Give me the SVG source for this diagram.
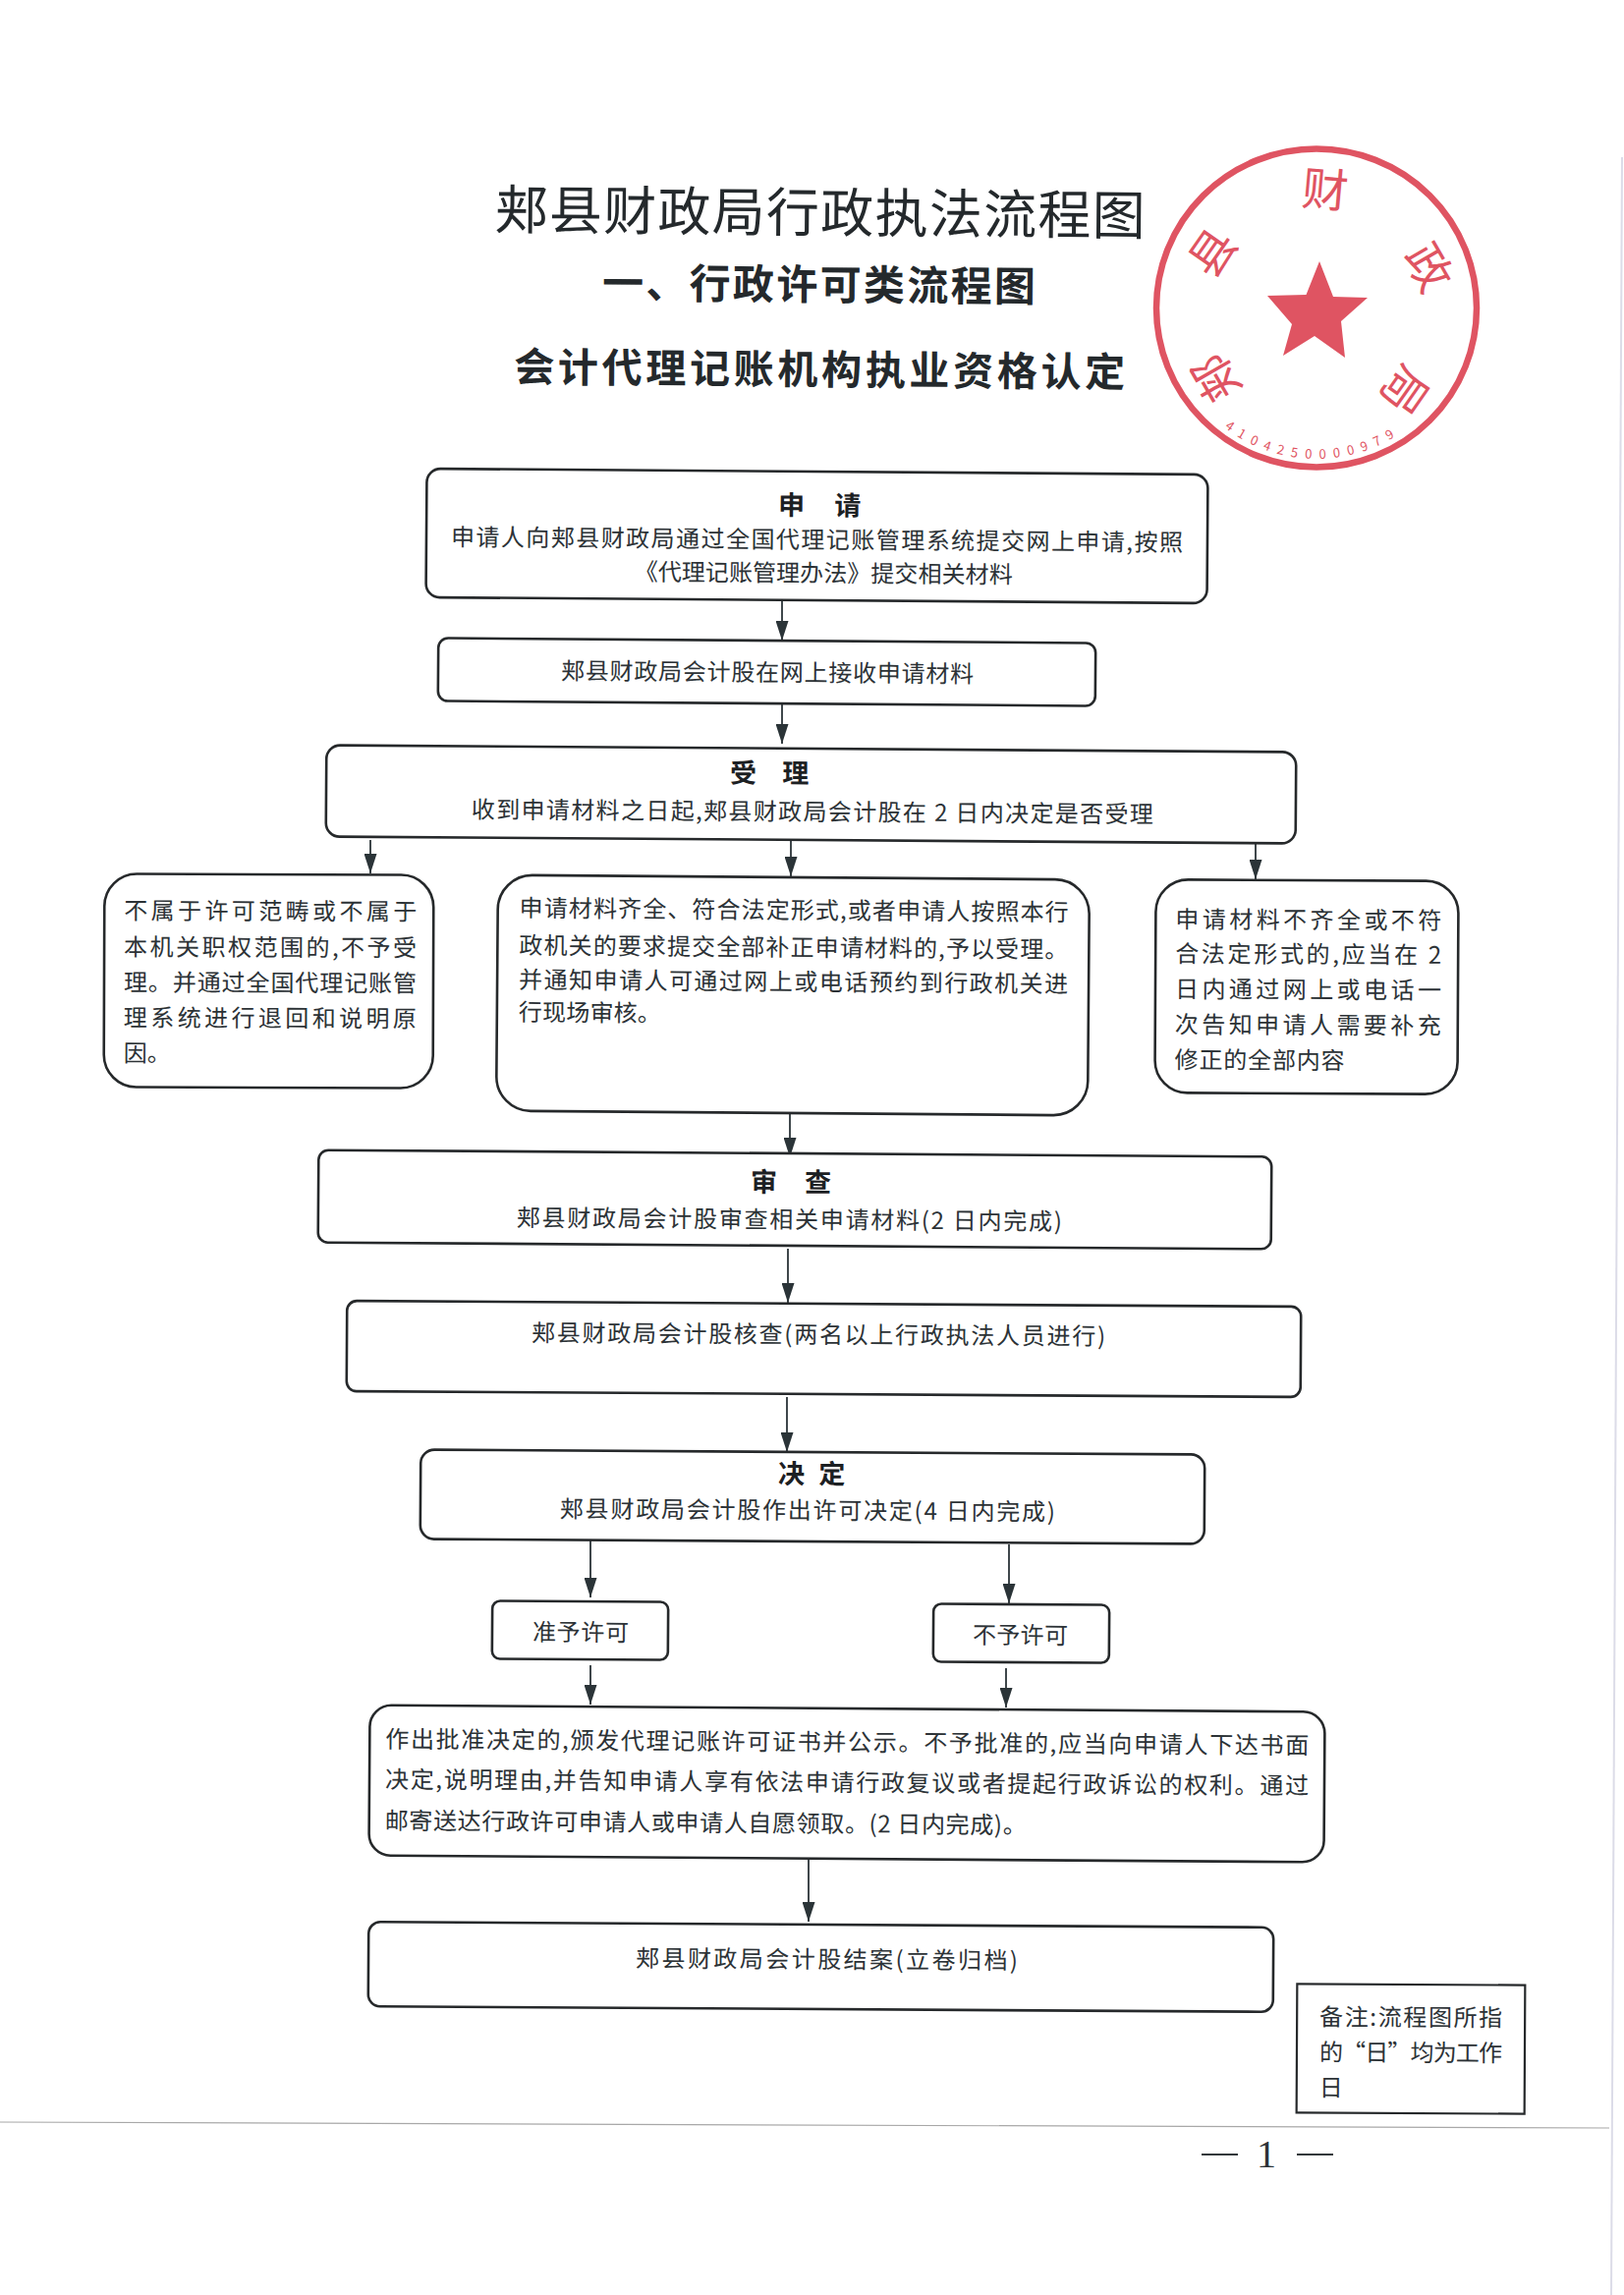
<svg xmlns="http://www.w3.org/2000/svg" width="1653" height="2336" viewBox="0 0 1653 2336">
<defs>
<style>
text{font-family:"Noto Sans CJK SC","Noto Sans",sans-serif;fill:#2c3236;font-size:24px}
.b{fill:#fff;stroke:#26292b;stroke-width:2.6}
.h{font-size:27px;font-weight:700;fill:#1c2023;text-anchor:middle}
.t{font-size:24px}
.title{font-size:54px;fill:#24292c}
.sub{font-size:42px;font-weight:700;fill:#24292c}
.sub2{font-size:41px;font-weight:700;fill:#24292c}
.c{fill:none;stroke:#2b3438;stroke-width:1.8;marker-end:url(#a)}
.s{fill:#df5462;font-size:47px;text-anchor:middle}
</style>
<marker id="a" markerUnits="userSpaceOnUse" viewBox="0 0 20 13" markerWidth="20" markerHeight="13" refX="20" refY="6.5" orient="auto"><path d="M0 0L20 6.5L0 13z" fill="#2b3438"/></marker>
</defs>
<rect width="1653" height="2336" fill="#fff"/>
<path d="M1651 160L1640 2336" stroke="#dcdce8" stroke-width="2" fill="none"/>
<path d="M0 2160L1638 2166" stroke="#a8a8a8" stroke-width="1.2" fill="none"/>
<g id="title" transform="rotate(0.5 836 290)">
<text class="title" x="503" y="236" textLength="662">郏县财政局行政执法流程图</text>
<text class="sub" x="613" y="305" textLength="441">一、行政许可类流程图</text>
<text class="sub2" x="524" y="391" textLength="622">会计代理记账机构执业资格认定</text>
</g>
<g id="seal">
<ellipse cx="1340" cy="313.5" rx="163" ry="162" fill="none" stroke="#df5462" stroke-width="6.5"/>
<polygon points="1343,266 1357,302 1392,303 1365,327 1369,364 1338,342 1306,362 1315,330 1290,301 1329.5,300" fill="#df5462"/>
<text class="s" x="1349" y="210" transform="rotate(5 1349 193)">财</text>
<text class="s" x="1234" y="274" transform="rotate(-55 1234 257)">县</text>
<text class="s" x="1454" y="289" transform="rotate(60 1454 272)">政</text>
<text class="s" x="1238" y="402" transform="rotate(-120 1238 385)">郏</text>
<text class="s" x="1430" y="414" transform="rotate(125 1430 397)">局</text>
<text style="font-size:13px;fill:#df5462" x="1246.2 1258.5 1271.4 1284.9 1298.9 1313.3 1328.1 1342.8 1357.6 1372.2 1386.5 1400.3 1413.6" y="435.3 443.7 450.9 456.9 461.4 464.7 466.6 467 466 463.6 459.9 454.7 448.2" rotate="36 30.5 25 19.5 14 8.5 3 -2.5 -8 -13.5 -19 -24.5 -30">4104250000979</text>
</g>
<g id="connectors">
<path class="c" d="M796 611V652"/>
<path class="c" d="M796 716V757"/>
<path class="c" d="M377 855V889"/>
<path class="c" d="M805 854V892"/>
<path class="c" d="M1278 857V895"/>
<path class="c" d="M804 1133V1178"/>
<path class="c" d="M802 1271V1326"/>
<path class="c" d="M801 1422V1478"/>
<path class="c" d="M601 1565V1626"/>
<path class="c" d="M1027 1572V1632"/>
<path class="c" d="M601 1695V1735"/>
<path class="c" d="M1024 1698V1738"/>
<path class="c" d="M823 1893V1956"/>
</g>
<g id="n1" transform="rotate(0.43 832 546)"><rect class="b" x="434" y="480" width="795" height="131" rx="14"/>
<text class="h" x="834" y="524" word-spacing="24">申 请</text>
<text class="t" x="459" y="558" textLength="745">申请人向郏县财政局通过全国代理记账管理系统提交网上申请,按照</text>
<text class="t" x="646" y="592" textLength="385">《代理记账管理办法》提交相关材料</text></g>
<g id="n2" transform="rotate(0.43 780 684)"><rect class="b" x="446" y="652" width="669" height="64" rx="10"/>
<text class="t" x="571" y="693" textLength="420">郏县财政局会计股在网上接收申请材料</text></g>
<g id="n3" transform="rotate(0.4 826 809)"><rect class="b" x="332" y="762" width="987" height="93" rx="14"/>
<text class="h" x="783" y="797" word-spacing="20">受 理</text>
<text class="t" x="480" y="835" textLength="694">收到申请材料之日起,郏县财政局会计股在 2 日内决定是否受理</text></g>
<g id="n4" transform="rotate(0.2 274 998)"><rect class="b" x="106" y="890" width="335" height="217" rx="33"/>
<text class="t" x="126" y="936" textLength="298">不属于许可范畴或不属于</text>
<text class="t" x="126" y="973" textLength="298">本机关职权范围的,不予受</text>
<text class="t" x="126" y="1009" textLength="298">理。并通过全国代理记账管</text>
<text class="t" x="126" y="1045" textLength="298">理系统进行退回和说明原</text>
<text class="t" x="126" y="1081" textLength="48">因。</text></g>
<g id="n5" transform="rotate(0.45 807 1013)"><rect class="b" x="506" y="893" width="602" height="240" rx="35"/>
<text class="t" x="528" y="935" textLength="559">申请材料齐全、符合法定形式,或者申请人按照本行</text>
<text class="t" x="528" y="973" textLength="559">政机关的要求提交全部补正申请材料的,予以受理。</text>
<text class="t" x="528" y="1008" textLength="559">并通知申请人可通过网上或电话预约到行政机关进</text>
<text class="t" x="528" y="1041" textLength="145">行现场审核。</text></g>
<g id="n6" transform="rotate(0.3 1330 1005)"><rect class="b" x="1176" y="896" width="308" height="217" rx="33"/>
<text class="t" x="1196" y="945" textLength="271">申请材料不齐全或不符</text>
<text class="t" x="1196" y="980" textLength="271">合法定形式的,应当在 2</text>
<text class="t" x="1196" y="1016" textLength="271">日内通过网上或电话一</text>
<text class="t" x="1196" y="1052" textLength="271">次告知申请人需要补充</text>
<text class="t" x="1196" y="1088" textLength="173">修正的全部内容</text></g>
<g id="n7" transform="rotate(0.4 809 1221)"><rect class="b" x="324" y="1174" width="970" height="94" rx="10"/>
<text class="h" x="805" y="1213" word-spacing="22">审 查</text>
<text class="t" x="526" y="1250" textLength="555">郏县财政局会计股审查相关申请材料(2 日内完成)</text></g>
<g id="n8" transform="rotate(0.35 838 1373)"><rect class="b" x="353" y="1327" width="971" height="92" rx="10"/>
<text class="t" x="541" y="1367" textLength="584">郏县财政局会计股核查(两名以上行政执法人员进行)</text></g>
<g id="n9" transform="rotate(0.36 827 1524)"><rect class="b" x="428" y="1478" width="798" height="91" rx="14"/>
<text class="h" x="826" y="1510" word-spacing="8">决 定</text>
<text class="t" x="570" y="1546" textLength="504">郏县财政局会计股作出许可决定(4 日内完成)</text></g>
<g id="n10" transform="rotate(0.4 591 1659)"><rect class="b" x="501" y="1630" width="179" height="59" rx="8"/>
<text class="t" x="542" y="1670" textLength="98">准予许可</text></g>
<g id="n11" transform="rotate(0.4 1040 1662)"><rect class="b" x="950" y="1633" width="179" height="59" rx="8"/>
<text class="t" x="990" y="1673" textLength="97">不予许可</text></g>
<g id="n12" transform="rotate(0.4 862 1815)"><rect class="b" x="376" y="1739" width="972" height="153" rx="22"/>
<text class="t" x="392" y="1782" textLength="940">作出批准决定的,颁发代理记账许可证书并公示。不予批准的,应当向申请人下达书面</text>
<text class="t" x="392" y="1823" textLength="940">决定,说明理由,并告知申请人享有依法申请行政复议或者提起行政诉讼的权利。通过</text>
<text class="t" x="392" y="1865" textLength="653">邮寄送达行政许可申请人或申请人自愿领取。(2 日内完成)。</text></g>
<g id="n13" transform="rotate(0.35 836 2002)"><rect class="b" x="375" y="1959" width="921" height="86" rx="12"/>
<text class="t" x="647" y="2003" textLength="389">郏县财政局会计股结案(立卷归档)</text></g>
<g id="note" transform="rotate(0.3 1435 2085)"><rect x="1320" y="2020" width="232" height="131" fill="#fff" stroke="#26292b" stroke-width="2.2"/>
<text class="t" x="1343" y="2062" textLength="186">备注:流程图所指</text>
<text class="t" x="1343" y="2098" textLength="186">的“日”均为工作</text>
<text class="t" x="1343" y="2134" textLength="24">日</text></g>
<g id="page">
<path d="M1223 2193H1260M1320 2193H1357" stroke="#33383b" stroke-width="2" fill="none"/>
<text x="1289" y="2206" style="font-family:'Liberation Serif',serif;font-size:40px;text-anchor:middle">1</text>
</g>
</svg>
